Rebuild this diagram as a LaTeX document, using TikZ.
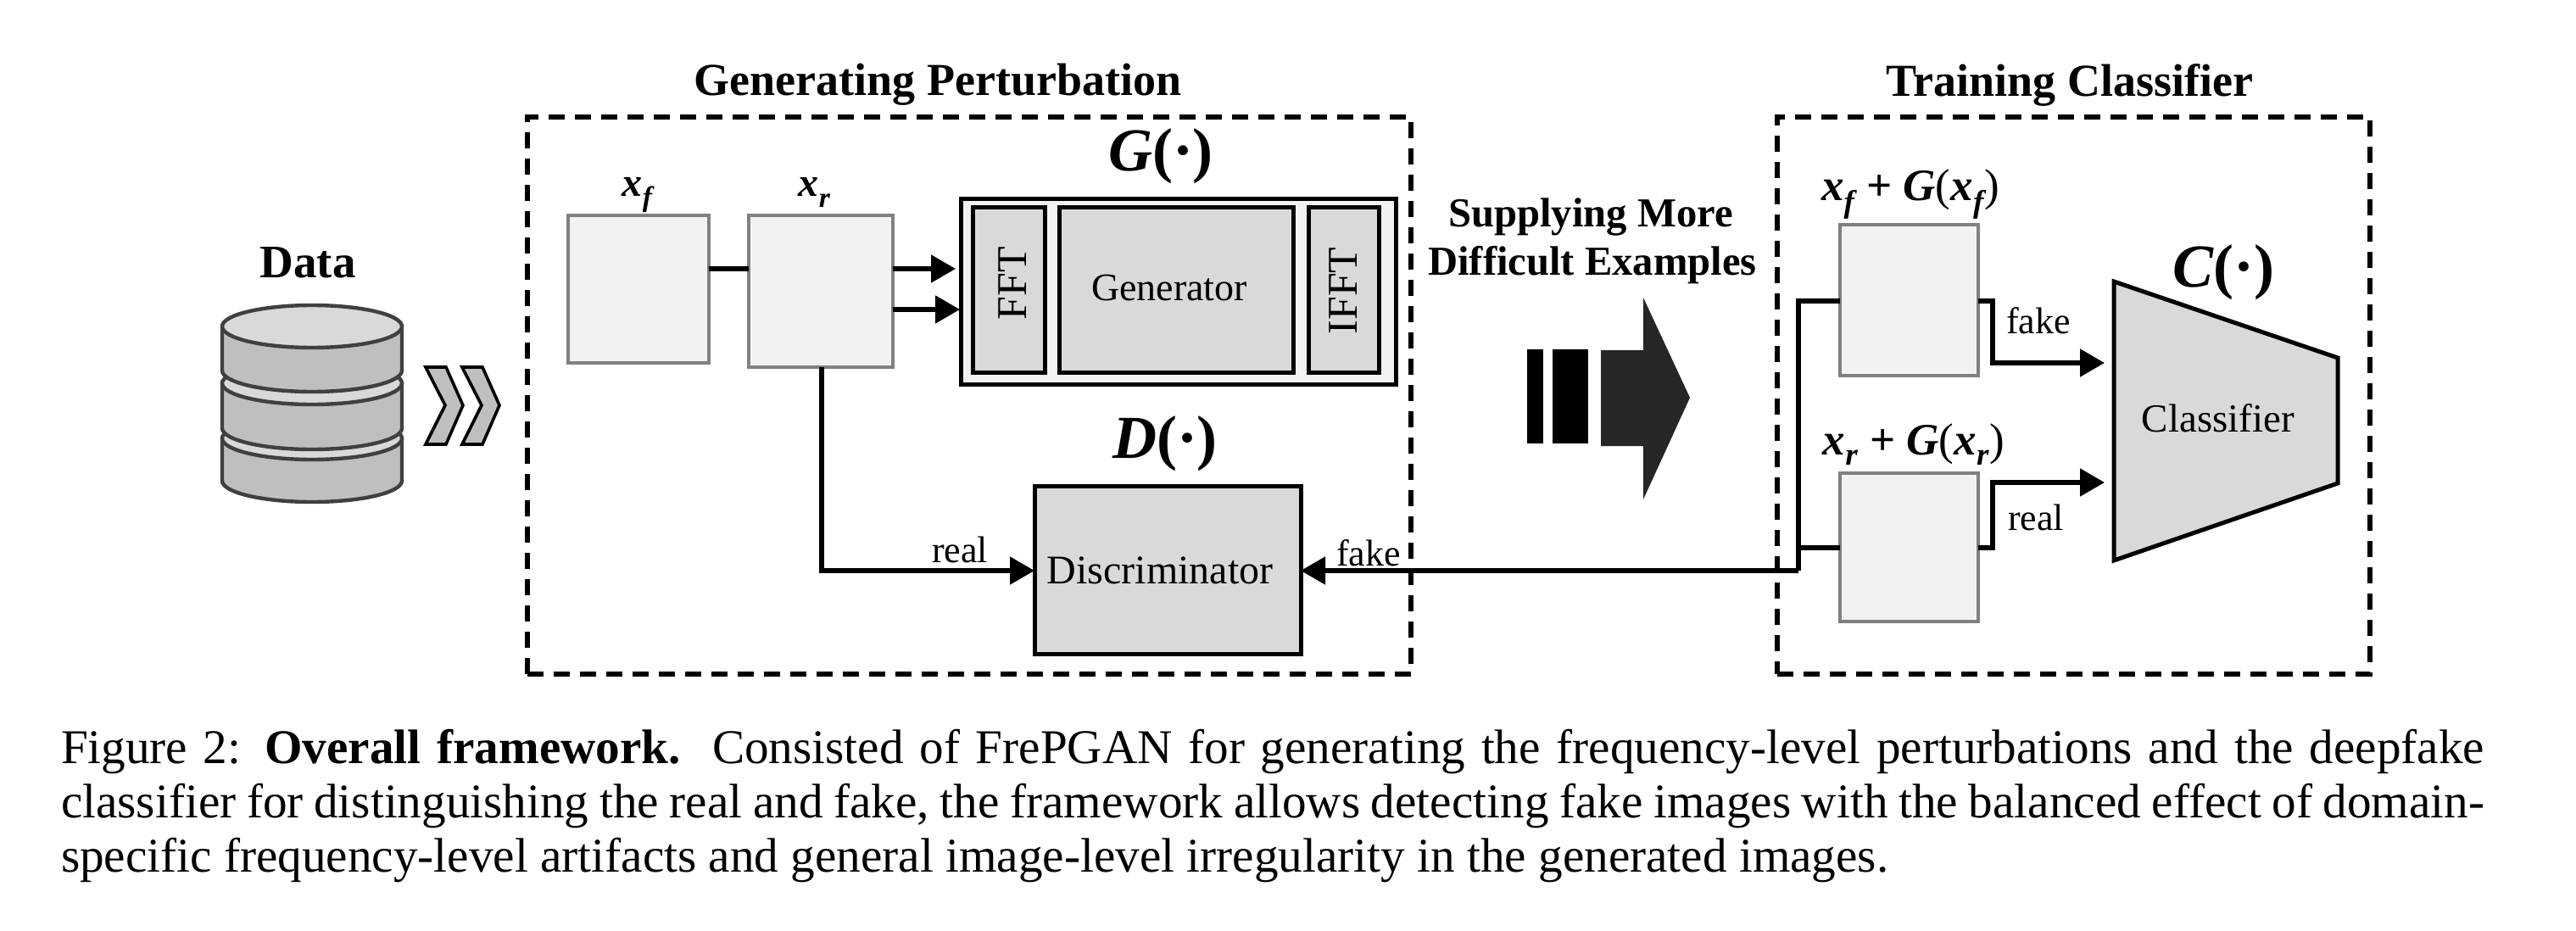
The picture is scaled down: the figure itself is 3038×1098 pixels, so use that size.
\documentclass[tikz,border=0pt]{standalone}
\usepackage{fontspec}
\setmainfont{Liberation Serif}
\usetikzlibrary{arrows.meta}
\newcommand{\fs}[1]{\fontsize{#1}{#1}\selectfont}
\newcommand{\mx}{{\bfseries\itshape x}}
\newcommand{\subf}{\raisebox{-0.1em}{\textsubscript{\bfseries\itshape f}}}
\newcommand{\subr}{\raisebox{-0.1em}{\textsubscript{\bfseries\itshape r}}}
\newcommand{\opname}[1]{{\bfseries\itshape #1}{\bfseries(\textperiodcentered)}}
\newcommand{\pbox}[7]{\node[#2,minimum width={(#5-#3)*0.5pt},minimum height={(#6-#4)*0.5pt}] (#1) at ({(#3+#5)/2},{(#4+#6)/2}) {#7};}
\tikzset{
  every node/.style={inner sep=0pt,outer sep=0pt},
  dashbox/.style={draw=black,line width=2.6pt,dash pattern=on 9.5pt off 6pt},
  lightbox/.style={draw=gray,fill=black!5,line width=2.3pt},
  greybox/.style={draw=black,fill=black!15,line width=2.5pt},
  outerbox/.style={draw=black,fill=black!5,line width=2.5pt},
  conn/.style={line width=2.6pt,draw=black},
  arr/.style={conn,-{Triangle[length=14.5pt,width=16pt]}},
  title/.style={font=\fs{27}\bfseries},
  lab/.style={font=\fs{23}},
  small/.style={font=\fs{22}},
  opn/.style={font=\fs{36}},
  vars/.style={font=\fs{24}},
  cyl/.style={draw=black!75,line width=2.2pt},
  chev/.style={draw=black,fill=black!25,line width=1.8pt},
}
\begin{document}
\begin{tikzpicture}[x=0.5pt,y=-0.5pt]
\useasboundingbox[fill=white] (0,0) rectangle (3038,1098);

% titles
\node[title] (tgen) at (1106,100) {Generating Perturbation};
\node[title] (ttrain) at (2441,100) {Training Classifier};
\node[title,font=\fs{27.5}\bfseries] (tdata) at (363,310) {Data};

% dashed frames
\pbox{fgen}{dashbox}{622}{138}{1664}{795}{}
\pbox{ftrain}{dashbox}{2096}{138}{2795}{795}{}

% database
\foreach \t/\b in {517/567,452/505,385/437}{
  \filldraw[cyl,fill=black!25] (262,\t) -- (262,\b) arc[start angle=180,end angle=0,x radius=106,y radius=25] -- (474,\t) -- cycle;
  \filldraw[cyl,fill=black!15] (368,\t) ellipse[x radius=106,y radius=25];
}

% chevrons
\foreach \d in {0,43}{
  \filldraw[chev] (502+\d,433) -- (526+\d,433) -- (546+\d,478) -- (526+\d,524) -- (502+\d,524) -- (525+\d,478) -- cycle;
}

% image boxes
\pbox{xf}{lightbox}{670}{254}{836}{428}{}
\pbox{xr}{lightbox}{883}{254}{1053}{433}{}
\node[vars] (lxf) at (752,230) {\mx\subf};
\node[vars] (lxr) at (961,227) {\mx\subr};

% generator
\pbox{gout}{outerbox}{1133}{234}{1646}{453}{}
\pbox{fft}{greybox}{1147}{244}{1232}{439}{}
\pbox{gen}{greybox}{1249}{244}{1525}{439}{}
\pbox{ifft}{greybox}{1543}{244}{1626}{439}{}
\node[font=\fs{25},rotate=90] (tfft) at (1194,334) {FFT};
\node[font=\fs{25},rotate=90] (tifft) at (1584,343) {IFFT};
\node[lab] (tgenr) at (1379,339) {Generator};
\node[opn] (lg) at (1369,184) {\opname{G}};

% discriminator
\pbox{disc}{greybox}{1220}{573}{1534}{771}{}
\node[font=\fs{24}] (tdisc) at (1368,673) {Discriminator};
\node[opn] (ld) at (1374,523) {\opname{D}};

% connectors left
\coordinate (c0) at (860,317);
\coordinate (a1) at (1127,317);
\coordinate (a2) at (1132,365);
\coordinate (d1) at (969,673);
\draw[conn] (xf.east |- c0) -- (xr.west |- c0);
\draw[arr] (xr.east |- a1) -- (a1);
\draw[arr] (xr.east |- a2) -- (a2);
\draw[arr] (xr.south -| d1) -- (d1) -- (disc.west |- d1);
\node[small,anchor=base] (lreal) at (1132,663) {real};
\node[small,anchor=base] (lfake) at (1614,667) {fake};

% supplying
\node[font=\fs{24.3}\bfseries] (s1) at (1876,256) {Supplying More};
\node[font=\fs{24.3}\bfseries] (s2) at (1878,313) {Difficult Examples};
\fill[black] (1801,412) rectangle (1820,523);
\fill[black] (1831,412) rectangle (1873,523);
\fill[black!85] (1888,413) -- (1938,413) -- (1938,351) -- (1993,469) -- (1938,589) -- (1938,526) -- (1888,526) -- cycle;

% right boxes
\pbox{xa}{lightbox}{2170}{265}{2333}{443}{}
\pbox{xb}{lightbox}{2170}{558}{2333}{733}{}
\node[font=\fs{26.5}] (lxa) at (2253,229) {\mx\subf\ {\bfseries+} {\bfseries\itshape G}(\mx\subf)};
\node[font=\fs{26.5}] (lxb) at (2257,524) {\mx\subr\ {\bfseries+} {\bfseries\itshape G}(\mx\subr)};

% classifier
\filldraw[draw=black,fill=black!15,line width=2.5pt] (2493,332) -- (2757,422) -- (2757,570) -- (2493,661) -- cycle;
\node[font=\fs{23.5}] (tclf) at (2616,493) {Classifier};
\node[opn] (lc) at (2622,321) {\opname{C}};

% connectors right
\coordinate (t1) at (2121,355);
\coordinate (t2) at (2121,646);
\coordinate (t3) at (2121,673);
\coordinate (k1) at (2350,355);
\coordinate (k2) at (2350,428);
\coordinate (k3) at (2482,428);
\coordinate (m1) at (2350,646);
\coordinate (m2) at (2350,569);
\coordinate (m3) at (2482,569);
\draw[conn] (xa.west |- t1) -- (t1) -- (t3);
\draw[conn] (xb.west |- t2) -- (t2);
\draw[arr] (t3) -- (disc.east |- t3);
\draw[arr] (xa.east |- k1) -- (k1) -- (k2) -- (k3);
\draw[arr] (xb.east |- m1) -- (m1) -- (m2) -- (m3);
\node[small] (lf2) at (2404,378) {fake};
\node[small] (lr2) at (2401,610) {real};

% caption
\node[anchor=north west,text width=1429pt,align=justify,font=\fontsize{28.6}{32}\selectfont] (cap) at (72,860) {Figure 2: \textbf{Overall framework.}\ \ Consisted of FrePGAN for generating the frequency-level perturbations and the deepfake\linebreak classifier for distinguishing the real and fake, the framework allows detecting fake images with the balanced effect of domain-\linebreak specific frequency-level artifacts and general image-level irregularity in the generated images.};
\end{tikzpicture}
\end{document}
